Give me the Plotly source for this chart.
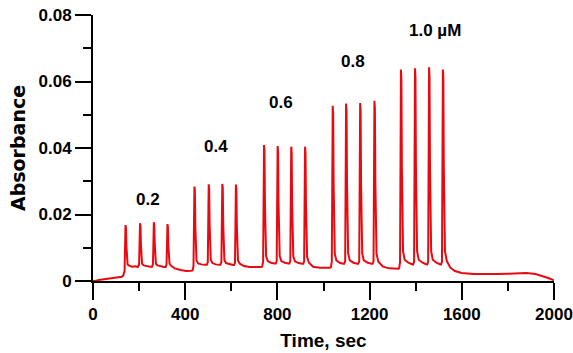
import plotly.graph_objects as go

# Trace: time (sec) and absorbance
time_s = [
    0, 10, 25, 45, 65, 90, 110, 125,
    131, 137, 139, 141, 143, 145, 147, 150, 157, 170, 185,
    194, 200, 202, 204, 206, 208, 210, 213, 220, 234, 248,
    256, 260, 262, 264, 266, 268, 270, 273, 280, 294, 308,
    315, 319, 321, 323, 325, 327, 329, 332, 340, 355, 380, 405, 425,
    432, 436, 438, 440, 442, 444, 446, 449, 456, 470, 488,
    494, 498, 500, 502, 504, 506, 508, 511, 518, 532, 548,
    553, 557, 559, 561, 563, 565, 567, 570, 577, 592, 607,
    612, 616, 618, 620, 622, 624, 626, 629, 637, 655, 680, 710, 728,
    734, 738, 740, 742, 744, 746, 748, 751, 758, 772, 788,
    793, 797, 799, 801, 803, 805, 807, 810, 817, 832, 848,
    852, 856, 858, 860, 862, 864, 866, 869, 876, 892, 908,
    912, 916, 918, 920, 922, 924, 926, 929, 937, 955, 985, 1010, 1028,
    1032, 1036, 1038, 1040, 1042, 1044, 1046, 1049, 1056, 1070, 1086,
    1090, 1094, 1096, 1098, 1100, 1102, 1104, 1107, 1114, 1130, 1147,
    1151, 1155, 1157, 1159, 1161, 1163, 1165, 1168, 1175, 1192, 1209,
    1213, 1217, 1219, 1221, 1223, 1225, 1227, 1230, 1238, 1258, 1285, 1310, 1325,
    1328, 1332, 1334, 1336, 1338, 1340, 1342, 1345, 1352, 1368, 1386,
    1389, 1393, 1395, 1397, 1399, 1401, 1403, 1406, 1413, 1430, 1447,
    1450, 1454, 1456, 1458, 1460, 1462, 1464, 1467, 1474, 1490, 1507,
    1510, 1514, 1516, 1518, 1520, 1522, 1524, 1527, 1535, 1550, 1570, 1600,
    1650, 1700, 1750, 1800, 1850, 1880, 1920, 1950, 1975, 2000,
]
absorbance = [
    0.0001, 0.0000, 0.0003, 0.0005, 0.0007, 0.0009, 0.0011, 0.0013,
    0.0016, 0.0030, 0.0100, 0.0168, 0.0160, 0.0105, 0.0065, 0.0050, 0.0046, 0.0043, 0.0044,
    0.0042, 0.0050, 0.0105, 0.0174, 0.0166, 0.0108, 0.0068, 0.0052, 0.0047, 0.0044, 0.0043,
    0.0043, 0.0050, 0.0108, 0.0177, 0.0168, 0.0110, 0.0070, 0.0052, 0.0047, 0.0044, 0.0042,
    0.0042, 0.0050, 0.0105, 0.0171, 0.0163, 0.0106, 0.0068, 0.0052, 0.0045, 0.0038, 0.0033, 0.0030, 0.0031,
    0.0032, 0.0045, 0.0160, 0.0284, 0.0272, 0.0165, 0.0095, 0.0062, 0.0053, 0.0050, 0.0049,
    0.0049, 0.0056, 0.0168, 0.0291, 0.0279, 0.0170, 0.0097, 0.0063, 0.0054, 0.0050, 0.0049,
    0.0049, 0.0056, 0.0168, 0.0292, 0.0280, 0.0170, 0.0097, 0.0063, 0.0054, 0.0050, 0.0048,
    0.0048, 0.0055, 0.0167, 0.0290, 0.0278, 0.0169, 0.0096, 0.0062, 0.0052, 0.0045, 0.0042, 0.0041, 0.0042,
    0.0043, 0.0058, 0.0225, 0.0409, 0.0390, 0.0230, 0.0125, 0.0075, 0.0060, 0.0055, 0.0053,
    0.0053, 0.0060, 0.0225, 0.0406, 0.0388, 0.0229, 0.0124, 0.0075, 0.0060, 0.0055, 0.0053,
    0.0053, 0.0060, 0.0224, 0.0404, 0.0386, 0.0228, 0.0123, 0.0074, 0.0059, 0.0054, 0.0052,
    0.0052, 0.0059, 0.0224, 0.0404, 0.0386, 0.0228, 0.0123, 0.0072, 0.0055, 0.0043, 0.0040, 0.0039, 0.0040,
    0.0041, 0.0058, 0.0285, 0.0527, 0.0503, 0.0290, 0.0150, 0.0082, 0.0062, 0.0055, 0.0052,
    0.0052, 0.0060, 0.0290, 0.0534, 0.0510, 0.0294, 0.0152, 0.0083, 0.0062, 0.0055, 0.0052,
    0.0052, 0.0060, 0.0290, 0.0535, 0.0511, 0.0294, 0.0152, 0.0083, 0.0062, 0.0055, 0.0052,
    0.0052, 0.0060, 0.0295, 0.0542, 0.0518, 0.0298, 0.0154, 0.0082, 0.0058, 0.0043, 0.0038, 0.0036, 0.0037,
    0.0038, 0.0056, 0.0340, 0.0636, 0.0607, 0.0345, 0.0175, 0.0090, 0.0064, 0.0055, 0.0050,
    0.0050, 0.0058, 0.0342, 0.0640, 0.0611, 0.0347, 0.0176, 0.0090, 0.0064, 0.0055, 0.0050,
    0.0050, 0.0058, 0.0344, 0.0643, 0.0614, 0.0348, 0.0176, 0.0090, 0.0064, 0.0055, 0.0050,
    0.0050, 0.0058, 0.0340, 0.0636, 0.0607, 0.0345, 0.0175, 0.0090, 0.0060, 0.0040, 0.0030, 0.0024,
    0.0021, 0.0020, 0.0021, 0.0022, 0.0024, 0.0024, 0.0021, 0.0015, 0.0009, 0.0002,
]

# Concentration labels
label_texts = ["0.2", "0.4", "0.6", "0.8", "1.0 µM"]
label_times = [237, 532, 814, 1129, 1483]
label_abs = [0.0245, 0.0405, 0.0536, 0.0659, 0.0752]

x_tick_vals = [0, 400, 800, 1200, 1600, 2000]
x_tick_text = ["0", "400", "800", "1200", "1600", "2000"]
y_tick_vals = [0, 0.02, 0.04, 0.06, 0.08]
y_tick_text = ["0", "0.02", "0.04", "0.06", "0.08"]

FONT = "Liberation Sans, Arial, sans-serif"
RED = "rgb(232,10,16)"

fig = go.Figure()
fig.add_trace(go.Scatter(
    x=time_s, y=absorbance, mode="lines",
    line=dict(color=RED, width=2),
    showlegend=False, hoverinfo="skip",
))

for t, xv, yv in zip(label_texts, label_times, label_abs):
    fig.add_annotation(
        x=xv, y=yv, xref="x", yref="y", text=t, showarrow=False,
        font=dict(family=FONT, size=17, color="black", weight="bold"),
        xanchor="center", yanchor="middle",
    )

axis_common = dict(
    showgrid=False, zeroline=False, showline=True, linecolor="black", linewidth=2,
    ticks="outside", tickcolor="black", tickwidth=2, automargin=False,
    tickfont=dict(family=FONT, size=17, color="black", weight="bold"),
)

fig.update_xaxes(
    range=[0, 2000], tickvals=x_tick_vals, ticktext=x_tick_text, ticklen=17,
    minor=dict(dtick=200, tick0=0, ticks="outside", ticklen=8, tickcolor="black", tickwidth=2, showgrid=False),
    title=dict(text="Time, sec", font=dict(family=FONT, size=19, color="black", weight="bold"), standoff=10),
    **axis_common,
)
fig.update_yaxes(
    range=[0, 0.08], tickvals=y_tick_vals, ticktext=y_tick_text, ticklen=16,
    minor=dict(dtick=0.01, tick0=0, ticks="outside", ticklen=8, tickcolor="black", tickwidth=2, showgrid=False),
    title=dict(text="Absorbance", font=dict(family="DejaVu Sans, sans-serif", size=19, color="black", weight="bold"), standoff=8),
    **axis_common,
)

fig.update_layout(
    width=573, height=353,
    margin=dict(l=93, r=19, t=15, b=72),
    paper_bgcolor="white", plot_bgcolor="white",
)

fig.write_html("out.html")
